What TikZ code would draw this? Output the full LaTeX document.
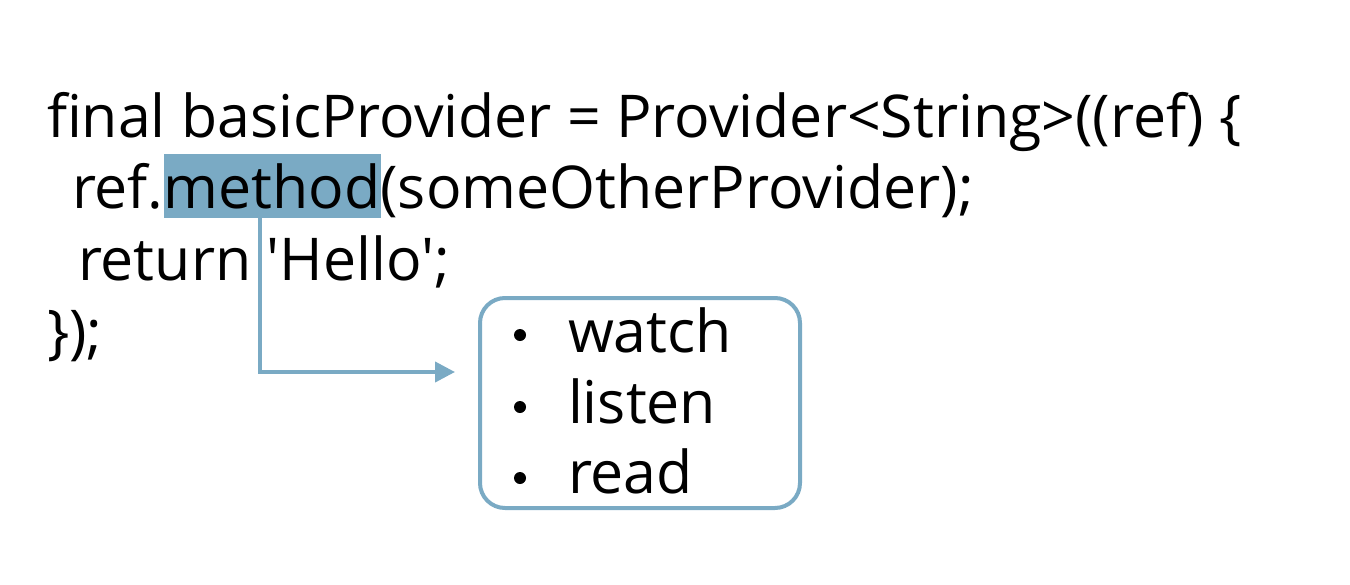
\documentclass[tikz,border=0pt]{standalone}
\usepackage{fontspec}
\setmainfont{Open Sans}[Ligatures=TeXOff]
\usepackage{tikz}
\usetikzlibrary{arrows.meta}
\definecolor{hlblue}{RGB}{122,170,196}
\newcommand{\codesize}{\fontsize{59}{70}\selectfont}
\tikzstyle{code}=[anchor=base west, inner sep=0, outer sep=0, font=\codesize]
\tikzstyle{marked}=[code, fill=hlblue, text height=54pt, text depth=10pt]
\tikzstyle{listbox}=[draw=hlblue, line width=4pt, rounded corners=25pt, minimum width=320pt, minimum height=210pt, inner sep=0]
\tikzstyle{bullet}=[circle, fill=black, inner sep=0, minimum size=12pt]
\tikzstyle{link}=[draw=hlblue, line width=4pt, -{Triangle[length=20pt, width=20pt]}]

\begin{document}
\begin{tikzpicture}[x=1pt, y=-1pt]
        \useasboundingbox (0, 0) rectangle (1350, 584);
        % code lines
        \node[code] (line1) at (47, 137) {final basicProvider = Provider<String>((ref) \{};
        \node[code] (ref) at (72, 208) {ref.};
        \node[marked] (method) at (ref.base east) {method};
        \node[code] (args) at (method.base east) {(someOtherProvider);};
        \node[code] (line3) at (78, 280) {return 'Hello';};
        \node[code] (line4) at (47, 352) {\});};
        % list of methods
        \node[listbox] (list) at (640, 403) {};
        \node[bullet] (b1) at (520, 335) {};
        \node[bullet] (b2) at (520, 407) {};
        \node[bullet] (b3) at (520, 478) {};
        \node[code] (watch) at (568, 352) {watch};
        \node[code] (listen) at (568, 423) {listen};
        \node[code] (read) at (568, 493) {read};
        \coordinate (tip) at (455, 372);
        \draw[link] ([xshift=-12pt]method.south) |- (tip);
    \end{tikzpicture}
\end{document}
